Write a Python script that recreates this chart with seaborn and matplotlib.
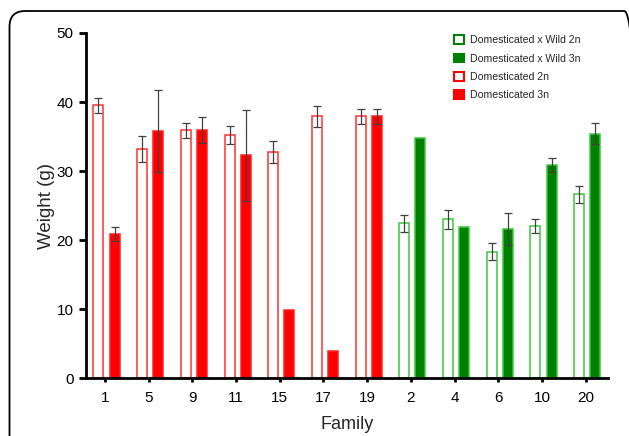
import numpy as np
import pandas as pd
import matplotlib
matplotlib.use("Agg")
import matplotlib.pyplot as plt
from matplotlib.patches import Patch, FancyBboxPatch
import seaborn as sns

families = ['1', '5', '9', '11', '15', '17', '19', '2', '4', '6', '10', '20']
groups = ['Domesticated'] * 7 + ['Domesticated x Wild'] * 5
mean_2n = [39.5, 33.2, 35.9, 35.2, 32.8, 37.9, 37.9, 22.4, 23.0, 18.3, 22.0, 26.6]
sd_2n = [1.1, 1.9, 1.05, 1.25, 1.6, 1.55, 1.05, 1.2, 1.4, 1.2, 1.05, 1.2]
mean_3n = [20.9, 35.8, 35.9, 32.3, 9.9, 3.9, 37.9, 34.8, 21.9, 21.6, 30.9, 35.4]
sd_3n = [1.0, 6.0, 1.9, 6.6, np.nan, np.nan, 1.05, np.nan, np.nan, 2.35, 1.0, 1.5]
ploidies = ['2n', '3n']
legend_labels = ['Domesticated x Wild 2n', 'Domesticated x Wild 3n',
                 'Domesticated 2n', 'Domesticated 3n']

df = pd.DataFrame({
    'Family': families * 2,
    'Ploidy': ['2n'] * len(families) + ['3n'] * len(families),
    'Weight': mean_2n + mean_3n,
})

sns.set_style("white")
plt.rcParams['font.family'] = ['Liberation Sans', 'DejaVu Sans']

W, H = 629, 436
fig = plt.figure(figsize=(W / 100, H / 100), dpi=100)
ax = fig.add_axes([86 / W, 1 - 378 / H, (607.7 - 86) / W, (378 - 33) / H])

sns.barplot(data=df, x='Family', y='Weight', hue='Ploidy', order=families,
            hue_order=ploidies, width=0.74, gap=0.38, errorbar=None,
            legend=False, ax=ax)

colors = {
    ('Domesticated', '2n'): dict(fc='white', ec='#ff3030'),
    ('Domesticated', '3n'): dict(fc='#ff0000', ec='#ff2020'),
    ('Domesticated x Wild', '2n'): dict(fc='white', ec='#3cc83c'),
    ('Domesticated x Wild', '3n'): dict(fc='#008000', ec='#3cc83c'),
}

sds = {'2n': sd_2n, '3n': sd_3n}
for cont, pl in zip(ax.containers, ploidies):
    for i, bar in enumerate(cont):
        c = colors[(groups[i], pl)]
        bar.set_facecolor(c['fc'])
        bar.set_edgecolor(c['ec'])
        bar.set_linewidth(1.1)
        e = sds[pl][i]
        if not np.isnan(e):
            xc = bar.get_x() + bar.get_width() / 2
            ax.errorbar(xc, bar.get_height(), yerr=e, fmt='none',
                        ecolor='#404040', elinewidth=0.9, capsize=3,
                        capthick=0.9, zorder=5)

ax.set_xlim(-0.47, 11.47)
ax.set_ylim(0, 50)
ax.set_yticks([0, 10, 20, 30, 40, 50])
ax.set_xticks(np.arange(len(families)) - 0.035)
ax.set_xticklabels(families)

for s in ['top', 'right']:
    ax.spines[s].set_visible(False)
for s in ['left', 'bottom']:
    ax.spines[s].set_linewidth(2)
    ax.spines[s].set_color('black')

ax.tick_params(axis='y', direction='out', length=5, width=2, labelsize=11,
               pad=4, left=True, colors='black')
ax.tick_params(axis='x', direction='out', length=3, width=2, labelsize=11,
               pad=6, bottom=True, colors='black')
ax.set_xlabel('Family', fontsize=13, labelpad=8)
ax.set_ylabel('Weight (g)', fontsize=13.5, labelpad=1)

handles = [
    Patch(facecolor='white', edgecolor='#008000', linewidth=1.5),
    Patch(facecolor='#008000', edgecolor='#008000', linewidth=1.5),
    Patch(facecolor='white', edgecolor='#ff0000', linewidth=1.5),
    Patch(facecolor='#ff0000', edgecolor='#ff0000', linewidth=1.5),
]
fig.legend(handles, legend_labels, loc='upper left',
           bbox_to_anchor=(449 / W, 1 - 30 / H), frameon=False,
           fontsize=7.6, handlelength=0.9, handleheight=0.9,
           handletextpad=0.6, labelspacing=0.78, borderpad=0)

frame = FancyBboxPatch((9.5 / W, -30 / H), (640 - 9.5) / W, (425 + 30) / H,
                       boxstyle='round,pad=0,rounding_size=0.025',
                       transform=fig.transFigure, fill=False,
                       edgecolor='black', linewidth=1.3, clip_on=False,
                       mutation_aspect=W / H)
fig.patches.append(frame)

fig.savefig('out.png', dpi=100)
